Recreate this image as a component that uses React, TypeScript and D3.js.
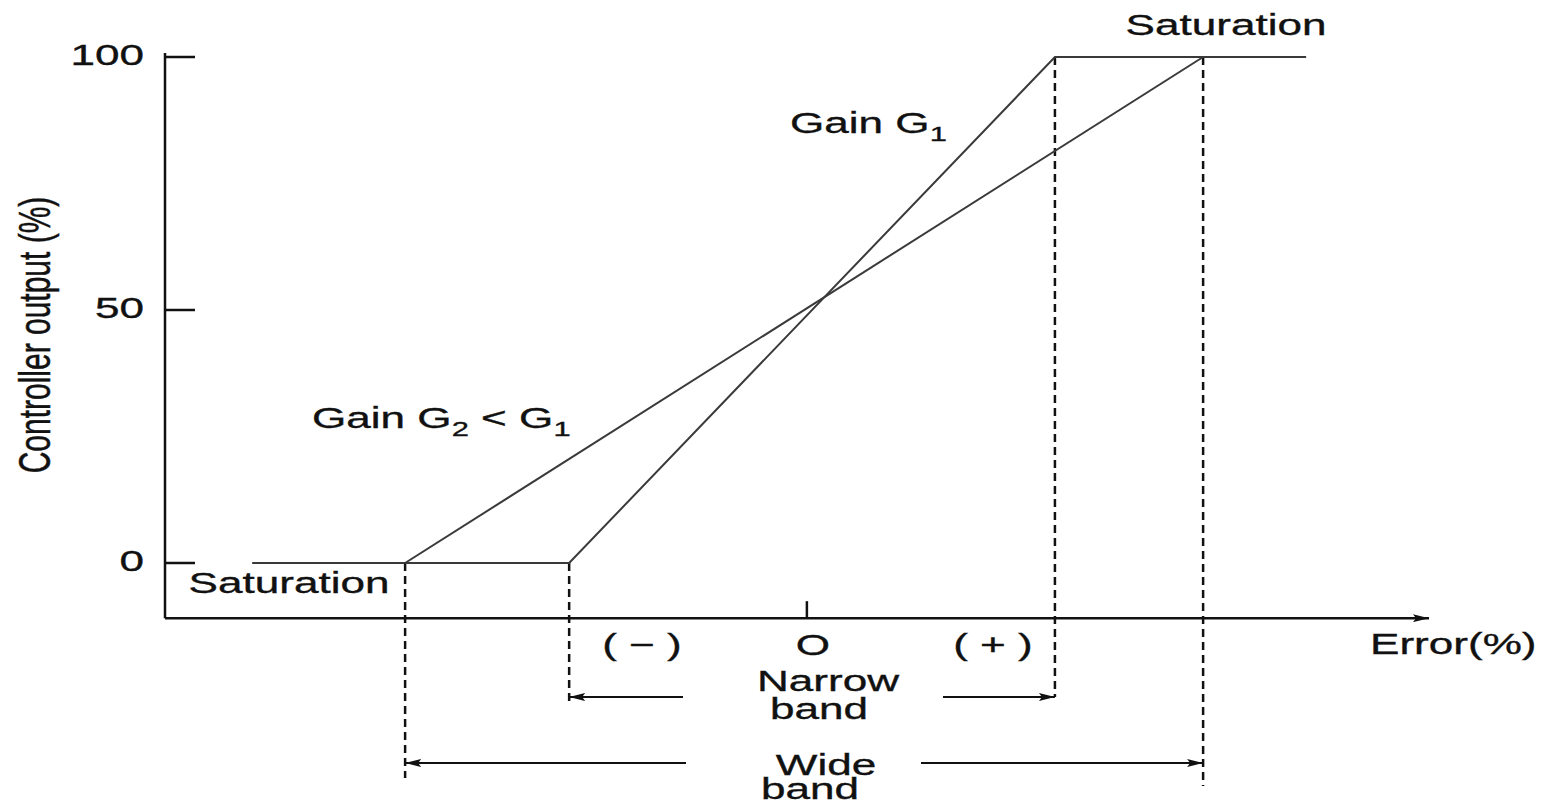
import React from "react";
import * as d3 from "d3";

// ---- data ----
const yTicks = [0, 50, 100];
const narrowBandCurve: [number, number][] = [
  [-70, 0],
  [-30, 0],
  [31.3, 100],
  [63, 100],
];
const wideBandCurve: [number, number][] = [
  [-50.7, 0],
  [50, 100],
];
const narrowBand = [-30, 31.3];
const wideBand = [-50.7, 50];
const xDomain = [-81, 78];
const yAxisRange = [-10.9, 100.8];

const W = 1544;
const H = 801;
const SX = 1.47; // horizontal stretch of lettering
const FONT = "'Liberation Sans', Arial, Helvetica, sans-serif";
const INK = "#111";

const x = d3.scaleLinear().domain(xDomain).range([165, 1425]);
const y = d3.scaleLinear().domain([0, 100]).range([563, 57]);

const line = d3
  .line<[number, number]>()
  .x((d) => x(d[0]))
  .y((d) => y(d[1]));

function T({
  x: tx,
  y: ty,
  anchor = "middle",
  size = 30,
  children,
}: {
  x: number;
  y: number;
  anchor?: "start" | "middle" | "end";
  size?: number;
  children: React.ReactNode;
}) {
  return (
    <text
      transform={`translate(${tx},${ty}) scale(${SX},1)`}
      textAnchor={anchor}
      fontSize={size}
      fontFamily={FONT}
      fill={INK}
      stroke={INK}
      strokeWidth={0.35}
    >
      {children}
    </text>
  );
}

export default function App() {
  const x0 = x(xDomain[0]);
  const axisY = y(yAxisRange[0]);
  const axisTop = y(yAxisRange[1]);
  const axisEnd = x(xDomain[1]);
  const narrowArrowY = 697;
  const wideArrowY = 763;
  const dash = "8 5";

  return (
    <svg
      width={W}
      height={H}
      style={{ position: "absolute", left: 0, top: 0, background: "#fff" }}
    >
      <defs>
        <marker
          id="ah"
          viewBox="0 0 16 8"
          refX={16}
          refY={4}
          markerWidth={16}
          markerHeight={8}
          markerUnits="userSpaceOnUse"
          orient="auto"
        >
          <path d="M0,0 L16,4 L0,8 L3,4 Z" fill={INK} />
        </marker>
      </defs>

      {/* axes */}
      <line x1={x0} y1={axisTop} x2={x0} y2={axisY} stroke={INK} strokeWidth={2.5} />
      <line
        x1={x0}
        y1={axisY}
        x2={axisEnd + 4}
        y2={axisY}
        stroke={INK}
        strokeWidth={2.5}
        markerEnd="url(#ah)"
      />
      {yTicks.map((t) => (
        <g key={t}>
          <line x1={x0} x2={x0 + 30} y1={y(t)} y2={y(t)} stroke={INK} strokeWidth={2.5} />
          <T x={144} y={y(t) + 8} anchor="end">
            {t}
          </T>
        </g>
      ))}
      {/* origin tick */}
      <line x1={x(0)} x2={x(0)} y1={axisY - 17} y2={axisY} stroke={INK} strokeWidth={2.5} />

      {/* dashed band limits */}
      <line x1={x(narrowBand[0])} x2={x(narrowBand[0])} y1={y(0)} y2={706} stroke={INK} strokeWidth={2.5} strokeDasharray={dash} />
      <line x1={x(narrowBand[1])} x2={x(narrowBand[1])} y1={y(100)} y2={narrowArrowY} stroke={INK} strokeWidth={2.5} strokeDasharray={dash} />
      <line x1={x(wideBand[0])} x2={x(wideBand[0])} y1={y(0)} y2={778} stroke={INK} strokeWidth={2.5} strokeDasharray={dash} />
      <line x1={x(wideBand[1])} x2={x(wideBand[1])} y1={y(100)} y2={786} stroke={INK} strokeWidth={2.5} strokeDasharray={dash} />

      {/* curves */}
      <path d={line(narrowBandCurve) || ""} fill="none" stroke="#3a3a3a" strokeWidth={2} />
      <path d={line(wideBandCurve) || ""} fill="none" stroke="#3a3a3a" strokeWidth={2} />

      {/* band arrows */}
      <line x1={683} y1={narrowArrowY} x2={x(narrowBand[0])} y2={narrowArrowY} stroke={INK} strokeWidth={2} markerEnd="url(#ah)" />
      <line x1={943} y1={narrowArrowY} x2={x(narrowBand[1])} y2={narrowArrowY} stroke={INK} strokeWidth={2} markerEnd="url(#ah)" />
      <line x1={686} y1={wideArrowY} x2={x(wideBand[0])} y2={wideArrowY} stroke={INK} strokeWidth={2} markerEnd="url(#ah)" />
      <line x1={921} y1={wideArrowY} x2={x(wideBand[1])} y2={wideArrowY} stroke={INK} strokeWidth={2} markerEnd="url(#ah)" />

      {/* labels */}
      <T x={1226} y={35}>Saturation</T>
      <T x={289} y={593}>Saturation</T>
      <T x={790} y={133} anchor="start">
        Gain G<tspan fontSize={21} dy={8}>1</tspan>
      </T>
      <T x={312} y={428} anchor="start">
        Gain G<tspan fontSize={21} dy={8}>2</tspan>
        <tspan dy={-8}> &lt; G</tspan>
        <tspan fontSize={21} dy={8}>1</tspan>
      </T>
      <T x={642} y={655}>( − )</T>
      <T x={813} y={655}>O</T>
      <T x={993} y={655}>( + )</T>
      <T x={828} y={691}>Narrow</T>
      <T x={819} y={719}>band</T>
      <T x={826} y={775}>Wide</T>
      <T x={810} y={799}>band</T>
      <T x={1370} y={654} anchor="start">Error(%)</T>

      <text
        transform={`translate(50,335) scale(${SX},1) rotate(-90)`}
        textAnchor="middle"
        fontSize={30}
        fontFamily={FONT}
        fill={INK}
        stroke={INK}
        strokeWidth={0.35}
      >
        Controller output (%)
      </text>
    </svg>
  );
}
